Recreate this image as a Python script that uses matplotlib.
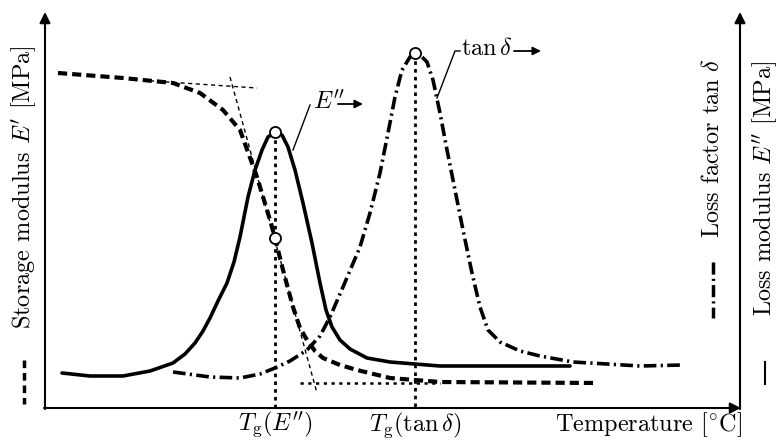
import numpy as np
import matplotlib
matplotlib.use('Agg')
import matplotlib.pyplot as plt

plt.rcParams['font.family'] = 'serif'
plt.rcParams['font.serif'] = ['cmr10']
plt.rcParams['mathtext.fontset'] = 'cm'
plt.rcParams['axes.formatter.use_mathtext'] = True

# schematic DMA curves (x = temperature, y = position from top)
eprime_T = [58, 123, 173, 200, 223, 240, 257, 270, 275, 283, 293, 300, 307, 315, 323, 340, 357, 390, 440, 597]
eprime_v = [73, 78, 83, 93, 110, 130, 177, 220, 238, 270, 307, 328, 340, 351, 358, 365, 370, 378, 382, 383]

eloss_T = [62, 90, 123, 150, 173, 185, 195, 203, 210, 218, 227, 234, 240, 248, 255, 262, 268, 275, 282, 288, 295,
           303, 312, 320, 326, 332, 340, 350, 367, 390, 440, 570]
eloss_v = [373, 376, 376, 371, 363, 354, 343, 331, 318, 301, 283, 262, 237, 197, 170, 150, 137, 132, 135, 147, 170,
           203, 243, 283, 310, 327, 340, 349, 358, 362, 366, 366]

tand_T = [173, 210, 240, 260, 275, 290, 307, 320, 330, 343, 360, 370, 380, 388, 395, 402, 410, 415, 421, 427,
          433, 440, 447, 455, 463, 472, 480, 488, 500, 520, 540, 573, 607, 640, 683]
tand_v = [372, 377, 378, 374, 368, 361, 350, 336, 317, 287, 247, 213, 173, 133, 97, 70, 57, 53, 56, 62,
          80, 113, 150, 190, 230, 273, 307, 330, 342, 351, 356, 362, 364, 366, 365]

# characteristic points
tg_eloss = (275, 132)
tg_eprime = (275, 238)
tg_tand = (415, 53)

# tangent construction on E'
tan_upper_T, tan_upper_v = [150, 257], [80.8, 88]
tan_steep_T, tan_steep_v = [230, 317], [77, 393]
tan_lower_T, tan_lower_v = [300, 440], [383, 383]

fig = plt.figure(figsize=(7.8, 4.41), dpi=100)
ax = fig.add_axes([0, 0, 1, 1])
ax.set_xlim(0, 780)
ax.set_ylim(441, 0)
ax.axis('off')

# axes with arrows
arr = dict(arrowstyle='-|>', color='black', lw=1.5, mutation_scale=16, shrinkA=0, shrinkB=0)
ax.annotate('', xy=(45, 12), xytext=(45, 409), arrowprops=arr)
ax.annotate('', xy=(741, 408), xytext=(44, 408), arrowprops=arr)
ax.annotate('', xy=(740, 12), xytext=(740, 409), arrowprops=arr)

# tangents
ax.plot(tan_upper_T, tan_upper_v, color='black', lw=1.0, dashes=(3, 2.5))
ax.plot(tan_steep_T, tan_steep_v, color='black', lw=1.0, dashes=(3, 2.5))
ax.plot(tan_lower_T, tan_lower_v, color='black', lw=1.8, dashes=(1.3, 1.8))

# vertical markers
ax.plot([tg_eloss[0], tg_eloss[0]], [tg_eloss[1], 408], color='black', lw=2.0, dashes=(1.3, 1.5))
ax.plot([tg_tand[0], tg_tand[0]], [tg_tand[1], 408], color='black', lw=2.0, dashes=(1.3, 1.5))

# curves
ax.plot(eprime_T, eprime_v, color='black', lw=3.0, dashes=(2.2, 1.2))
ax.plot(eloss_T, eloss_v, color='black', lw=2.6, solid_capstyle='round', solid_joinstyle='round')
ax.plot(tand_T, tand_v, color='black', lw=2.6, dashes=(3.5, 1.2, 0.6, 1.2))

for p in (tg_eloss, tg_eprime, tg_tand):
    ax.plot(p[0], p[1], 'o', ms=8, mfc='white', mec='black', mew=1.3)

fs = 17.5
# annotations
ax.plot([293, 310], [150, 105], color='black', lw=1.0)
ax.text(313, 102, r"$E^{\prime\prime}$", fontsize=fs, va='center', ha='left')
ax.annotate('', xy=(363, 104), xytext=(338, 104),
            arrowprops=dict(arrowstyle='-|>', color='black', lw=1.3, mutation_scale=12, shrinkA=0, shrinkB=0))
ax.plot([437, 455, 460], [98, 51, 51], color='black', lw=1.0)
ax.text(461, 49, r"$\mathrm{tan}\,\delta$", fontsize=fs, va='center', ha='left')
ax.annotate('', xy=(541, 51), xytext=(514, 51),
            arrowprops=dict(arrowstyle='-|>', color='black', lw=1.3, mutation_scale=12, shrinkA=0, shrinkB=0))

# x labels
ax.text(275, 425, r"$T_{\mathrm{g}}(E^{\prime\prime})$", fontsize=fs, ha='center', va='center')
ax.text(415, 425, r"$T_{\mathrm{g}}(\tan\delta)$", fontsize=fs, ha='center', va='center')
ax.text(742, 425, r"Temperature [$^{\circ}$C]", fontsize=fs, ha='right', va='center')

# y labels with line keys
ax.text(24, 187, r"Storage modulus $E^{\prime}$ [MPa]", fontsize=fs, rotation=90, ha='center', va='center')
ax.plot([24, 24], [360, 404], color='black', lw=2.5, dashes=(2.2, 1.4))
ax.text(713, 148, r"Loss factor $\tan\,\delta$", fontsize=fs, rotation=90, ha='center', va='center')
ax.plot([713, 713], [262, 318], color='black', lw=2.5, dashes=(3.5, 1.2, 0.6, 1.2))
ax.text(765, 188, r"Loss modulus $E^{\prime\prime}$ [MPa]", fontsize=fs, rotation=90, ha='center', va='center')
ax.plot([765, 765], [362, 384], color='black', lw=1.5)

fig.savefig('out.png', dpi=100)
